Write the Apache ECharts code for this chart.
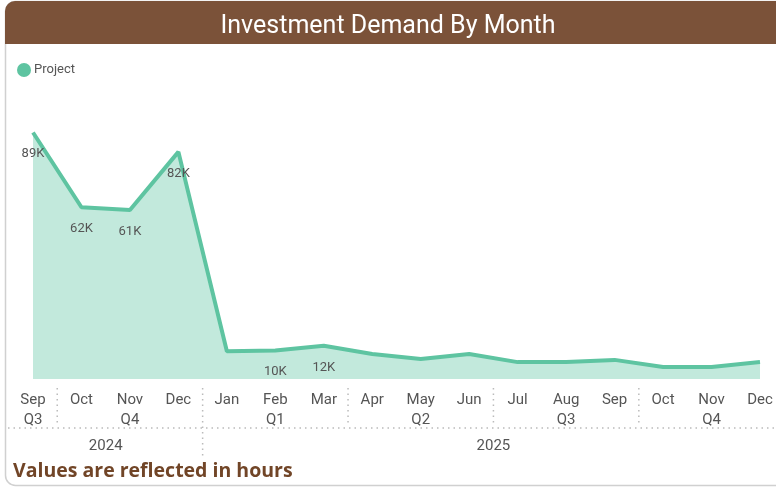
<!DOCTYPE html>
<html>
<head>
<meta charset="utf-8">
<script src="https://cdn.jsdelivr.net/npm/echarts@6/dist/echarts.min.js"></script>
<style>
  html, body { margin: 0; padding: 0; background: #fff; }
  #chart { width: 776px; height: 487px; }
</style>
</head>
<body>
<div id="chart"></div>
<script>
// months shown on the axis, with quarter / year grouping
var months = ['Sep','Oct','Nov','Dec','Jan','Feb','Mar','Apr','May','Jun','Jul','Aug','Sep','Oct','Nov','Dec'];
var quarters = ['Q3','Q4','Q4','Q4','Q1','Q1','Q1','Q2','Q2','Q2','Q3','Q3','Q3','Q4','Q4','Q4'];
var years = ['2024','2024','2024','2024','2025','2025','2025','2025','2025','2025','2025','2025','2025','2025','2025','2025'];
// hours per month
var hours = [89000, 62000, 61000, 82000, 10000, 10300, 12000, 9000, 7200, 9000, 6100, 6100, 6900, 4300, 4300, 6100];
// which points carry a data label
var labelled = [1, 1, 1, 1, 0, 1, 1, 0, 0, 0, 0, 0, 0, 0, 0, 0];

var teal = '#5EC4A1';
var brown = '#7B5239';

// middle index of each run of equal values
function groups(arr) {
    var out = [], start = 0;
    for (var i = 1; i <= arr.length; i++) {
        if (i === arr.length || arr[i] !== arr[start]) {
            out.push({ name: arr[start], from: start, to: i - 1 });
            start = i;
        }
    }
    return out;
}
var qGroups = groups(quarters);
var yGroups = groups(years);
var qMid = {};
qGroups.forEach(function (g) { qMid[Math.floor((g.from + g.to) / 2)] = g.name; });

var seriesData = hours.map(function (v, i) {
    return { value: v, label: { show: !!labelled[i] } };
});

var chart = echarts.init(document.getElementById('chart'));
var option = {
    animation: false,
    title: {
        text: 'Investment Demand By Month',
        left: 'center',
        top: 9,
        textStyle: { color: '#fff', fontSize: 25, fontWeight: 'normal', fontFamily: 'Roboto' }
    },
    legend: {
        data: ['Project'],
        left: 12,
        top: 58,
        icon: 'circle',
        itemWidth: 14,
        itemHeight: 14,
        itemGap: 4,
        textStyle: { color: '#555', fontSize: 13, fontFamily: 'Roboto', padding: [0, 0, 0, -2] }
    },
    grid: { left: 33, right: 16, top: 102, bottom: 108 },
    xAxis: [{
        type: 'category',
        boundaryGap: false,
        data: months,
        axisLine: { show: false },
        axisTick: { show: false },
        axisLabel: {
            interval: 0,
            margin: 11,
            color: '#555',
            fontSize: 15,
            fontFamily: 'Roboto',
            lineHeight: 20,
            formatter: function (v, i) {
                return qMid[i] ? v + '\n' + qMid[i] : v;
            }
        }
    }],
    yAxis: [{ type: 'value', min: 0, max: 100000, show: false }],
    series: [{
        name: 'Project',
        type: 'line',
        data: seriesData,
        symbol: 'circle',
        symbolSize: 0.1,
        lineStyle: { color: teal, width: 4 },
        itemStyle: { color: teal },
        areaStyle: { color: '#C2E9DC', opacity: 1 },
        label: {
            position: 'bottom',
            distance: 15,
            color: '#555',
            fontSize: 13,
            fontFamily: 'Roboto',
            formatter: function (p) { return Math.round(p.value / 1000) + 'K'; }
        }
    }]
};
chart.setOption(option);

// card frame, header bar, dotted group separators and year labels
var px = function (i) { return chart.convertToPixel({ xAxisIndex: 0 }, i); };
var dot = { stroke: '#bbb', lineWidth: 1.5, lineDash: [1.5, 4] };
var graphics = [
    { type: 'rect', z: -10, shape: { x: 5.5, y: 1.5, width: 800, height: 484, r: 10 }, style: { fill: '#fff', stroke: '#d0d0d0', lineWidth: 1.5 } },
    { type: 'rect', z: -5, shape: { x: 5, y: 1, width: 800, height: 43, r: [10, 0, 0, 0] }, style: { fill: brown } },
    { type: 'line', shape: { x1: 8, y1: 428, x2: 776, y2: 428 }, style: dot }
];
for (var i = 1; i < months.length; i++) {
    if (quarters[i] !== quarters[i - 1] || years[i] !== years[i - 1]) {
        var x = (px(i - 1) + px(i)) / 2;
        var y2 = years[i] !== years[i - 1] ? 456 : 426;
        graphics.push({ type: 'line', shape: { x1: x, y1: 388, x2: x, y2: y2 }, style: dot });
    }
}
yGroups.forEach(function (g) {
    graphics.push({
        type: 'text',
        style: {
            text: g.name, x: (px(g.from) + px(g.to)) / 2, y: 446,
            align: 'center', verticalAlign: 'middle',
            fill: '#555', fontSize: 15, fontFamily: 'Roboto'
        }
    });
});
graphics.push({
    type: 'text',
    style: {
        text: 'Values are reflected in hours', x: 13, y: 471,
        verticalAlign: 'middle', fill: '#714527',
        fontSize: 19.5, fontWeight: 'bold', fontFamily: 'Open Sans'
    }
});
chart.setOption({ graphic: graphics });
</script>
</body>
</html>
